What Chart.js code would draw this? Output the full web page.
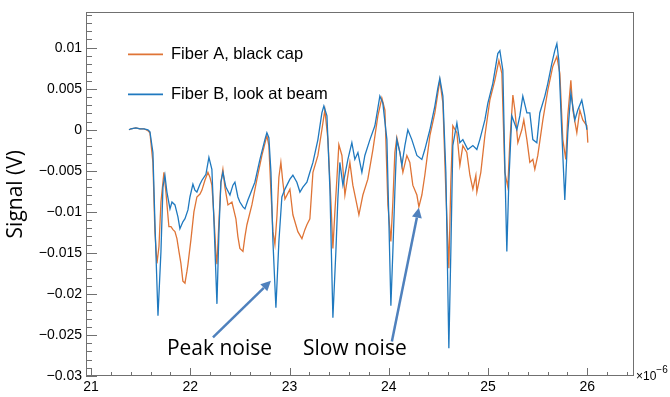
<!DOCTYPE html>
<html><head><meta charset="utf-8">
<script src="https://cdn.jsdelivr.net/npm/chart.js@4.4.1/dist/chart.umd.min.js"></script>
<style>html,body{margin:0;padding:0;background:#fff}#wrap{width:670px;height:397px;position:relative}</style>
</head><body><div id="wrap"><canvas id="c" width="670" height="397"></canvas></div>
<script>
// time in units of 1e-6 s, signal in V
const timeA = [21.383,21.403,21.453,21.493,21.534,21.574,21.594,21.624,21.644,21.665,21.685,21.705,21.735,21.755,21.785,21.806,21.826,21.846,21.866,21.886,21.906,21.926,21.947,21.967,21.977,22.007,22.037,22.067,22.098,22.118,22.148,22.178,22.198,22.218,22.239,22.259,22.269,22.289,22.309,22.329,22.349,22.380,22.420,22.460,22.480,22.500,22.531,22.551,22.571,22.621,22.672,22.722,22.772,22.792,22.813,22.833,22.853,22.873,22.893,22.913,22.933,22.954,23.004,23.034,23.084,23.125,23.155,23.175,23.205,23.236,23.286,23.326,23.356,23.387,23.417,23.437,23.457,23.477,23.497,23.528,23.558,23.608,23.638,23.679,23.699,23.739,23.789,23.840,23.890,23.930,23.961,23.991,24.021,24.041,24.061,24.081,24.112,24.142,24.182,24.212,24.242,24.283,24.303,24.333,24.363,24.414,24.464,24.514,24.545,24.575,24.605,24.625,24.645,24.686,24.716,24.746,24.786,24.817,24.847,24.877,24.887,24.927,24.968,25.018,25.068,25.109,25.139,25.169,25.199,25.219,25.250,25.270,25.300,25.340,25.360,25.391,25.421,25.451,25.471,25.501,25.552,25.602,25.652,25.693,25.723,25.753,25.783,25.803,25.834,25.854,25.894,25.924,25.954,25.995,26.005];
const signalA = [0,0.00012,0.00024,0.00012,0.00012,-0.00012,-0.00036,-0.00398,-0.01241,-0.01627,-0.01422,-0.0088,-0.00518,-0.00759,-0.01181,-0.01181,-0.01217,-0.01241,-0.01326,-0.01482,-0.01627,-0.01844,-0.01868,-0.01723,-0.01639,-0.01338,-0.01,-0.00819,-0.00783,-0.00735,-0.00615,-0.00518,-0.00578,-0.00675,-0.0106,-0.01518,-0.01639,-0.01121,-0.00639,-0.00482,-0.00699,-0.00916,-0.0088,-0.01084,-0.01301,-0.01446,-0.01482,-0.01301,-0.01157,-0.00916,-0.00602,-0.00313,-0.00072,-0.00193,-0.00759,-0.01241,-0.01398,-0.0106,-0.00578,-0.00398,-0.00639,-0.00843,-0.00723,-0.01036,-0.01241,-0.01326,-0.01217,-0.01157,-0.01084,-0.00518,-0.00313,0,0.00241,-0.0012,-0.0088,-0.01446,-0.01,-0.00602,-0.00181,-0.00313,-0.00795,-0.00398,-0.00675,-0.00916,-0.01036,-0.00795,-0.00602,-0.00241,0.00169,0.00386,0.00241,-0.00916,-0.01362,-0.0088,-0.00277,-0.00096,-0.00277,-0.00518,-0.00313,-0.00398,-0.00675,-0.00795,-0.0094,-0.00795,-0.00554,-0.00072,0.00205,0.00602,0.00325,-0.00759,-0.01687,-0.00639,0.00048,-0.00036,-0.00434,-0.00193,-0.00277,-0.00554,-0.00723,-0.00554,-0.00759,-0.00518,-0.00072,0.00361,0.00602,0.00843,0.00687,-0.00518,-0.00699,-0.00157,0.00422,0.00241,-0.00157,0,0.0012,-0.0012,-0.00398,-0.00361,-0.00482,-0.00313,0.0012,0.00482,0.00771,0.00892,0.00687,-0.0012,-0.00361,0.00169,0.00602,0.00241,-0.00036,0.00241,0.0012,0.00048,-0.00157];
const timeB = [21.383,21.403,21.453,21.493,21.534,21.574,21.594,21.624,21.644,21.675,21.705,21.725,21.745,21.765,21.796,21.816,21.846,21.876,21.896,21.926,21.947,21.977,21.997,22.027,22.047,22.067,22.098,22.118,22.158,22.188,22.218,22.239,22.269,22.289,22.309,22.329,22.359,22.400,22.430,22.450,22.480,22.500,22.531,22.551,22.581,22.601,22.651,22.702,22.752,22.772,22.792,22.813,22.833,22.863,22.893,22.923,22.954,23.004,23.034,23.074,23.105,23.135,23.175,23.205,23.236,23.286,23.326,23.346,23.377,23.407,23.437,23.467,23.487,23.507,23.538,23.588,23.628,23.658,23.689,23.729,23.759,23.810,23.860,23.890,23.910,23.940,23.981,24.001,24.021,24.041,24.061,24.081,24.112,24.132,24.162,24.192,24.232,24.283,24.333,24.363,24.414,24.464,24.494,24.514,24.545,24.575,24.605,24.625,24.645,24.686,24.716,24.746,24.796,24.847,24.887,24.917,24.968,24.998,25.048,25.098,25.119,25.149,25.169,25.189,25.209,25.239,25.290,25.320,25.350,25.391,25.421,25.451,25.491,25.521,25.572,25.602,25.642,25.672,25.693,25.713,25.743,25.773,25.803,25.834,25.874,25.904,25.944,25.975,25.995];
const signalB = [0,0.00012,0.00024,0.00012,0.00012,0,-0.00024,-0.00277,-0.01121,-0.02265,-0.01482,-0.00699,-0.00554,-0.00759,-0.00964,-0.0088,-0.00916,-0.0106,-0.01205,-0.01121,-0.01084,-0.00976,-0.00819,-0.00663,-0.00735,-0.00759,-0.00663,-0.00615,-0.00542,-0.00337,-0.00482,-0.01121,-0.02121,-0.01241,-0.00639,-0.00518,-0.00699,-0.00795,-0.00675,-0.00639,-0.00819,-0.0088,-0.0094,-0.00964,-0.00856,-0.00795,-0.00639,-0.00361,-0.0012,-0.00036,-0.00096,-0.00518,-0.01362,-0.02169,-0.01362,-0.00819,-0.00723,-0.00602,-0.00554,-0.00639,-0.00759,-0.00699,-0.00639,-0.00518,-0.00398,-0.0012,0.00205,0.00289,0.00169,-0.00723,-0.0229,-0.01482,-0.00843,-0.00398,-0.00675,-0.00361,-0.00157,-0.00361,-0.00277,-0.00518,-0.00313,-0.0012,0.00048,0.00265,0.0041,0.00325,-0.0012,-0.01121,-0.02145,-0.01482,-0.00759,-0.0012,-0.00277,-0.00434,-0.00193,0,-0.0012,-0.00313,-0.00361,-0.00241,0,0.00289,0.00506,0.00627,0.0041,-0.00518,-0.02663,-0.01482,-0.00193,0.00084,-0.00157,-0.0012,-0.00241,-0.00193,-0.00241,-0.0012,0.0012,0.00325,0.00566,0.00928,0.00964,0.00723,-0.00434,-0.01482,-0.00639,0.00169,0,0.00169,0.0041,0.00205,0.00205,-0.0012,-0.00157,0.00205,0.0041,0.00566,0.00807,0.00964,0.01048,0.00843,-0.00036,-0.00856,-0.00036,0.00446,0.0012,0.00241,0.00361,0.00169,0];
const seriesLabels = ['Fiber A, black cap', 'Fiber B, look at beam'];
const seriesColors = ['#DF7436', '#1F79BF'];
const xRange = [20.95, 26.47];
const yRange = [-0.03, 0.0143];
const yAxisTitle = 'Signal (V)';
const xExponent = ['\u00d710', '\u22126'];
const notes = [
  {text: 'Peak noise', x: 21.765, y: -0.0275, fromX: 22.229, fromY: -0.0253, toX: 22.813, toY: -0.0184},
  {text: 'Slow noise', x: 23.135, y: -0.0275, fromX: 24.031, fromY: -0.0258, toX: 24.303, toY: -0.0095}
];

function fmtY(v) {
  const r = Math.round(v * 1000) / 1000;
  if (Math.abs(r * 200 - Math.round(r * 200)) > 1e-6) return '';
  if (r === 0) return '0';
  return String(r).replace('-', '\u2212');
}

const decor = {
  id: 'decor',
  afterDraw(chart) {
    const ctx = chart.ctx, a = chart.chartArea, xs = chart.scales.x, ys = chart.scales.y;
    ctx.save();
    ctx.strokeStyle = '#707070';
    ctx.lineWidth = 1;
    ctx.strokeRect(Math.round(a.left) + 0.5, Math.round(a.top) + 0.5, Math.round(a.right - a.left) - 1, Math.round(a.bottom - a.top) - 1);
    ctx.beginPath();
    for (let k = -30; k <= 14; k++) {
      const py = Math.round(ys.getPixelForValue(k / 1000)) + 0.5;
      const len = (k % 5 === 0) ? 11 : 6;
      ctx.moveTo(a.left, py); ctx.lineTo(a.left + len, py);
    }
    for (let k = 0; k <= 27; k++) {
      const px = Math.round(xs.getPixelForValue(21 + k * 0.2)) + 0.5;
      const len = (k % 5 === 0) ? 8 : 4;
      ctx.moveTo(px, a.bottom); ctx.lineTo(px, a.bottom - len);
    }
    ctx.stroke();
    ctx.font = '16.5px "Liberation Sans", Arial, sans-serif';
    ctx.textBaseline = 'middle';
    ctx.textAlign = 'left';
    chart.data.datasets.forEach((ds, i) => {
      const y = a.top + 42 + i * 40;
      ctx.strokeStyle = ds.borderColor;
      ctx.lineWidth = 1.6;
      ctx.beginPath(); ctx.moveTo(a.left + 42, y); ctx.lineTo(a.left + 77, y); ctx.stroke();
      ctx.fillStyle = '#000';
      ctx.fillText(ds.label, a.left + 85, y);
    });
    ctx.font = '21px "Open Sans", sans-serif';
    ctx.textBaseline = 'alphabetic';
    notes.forEach(n => {
      ctx.fillStyle = '#000';
      ctx.fillText(n.text, xs.getPixelForValue(n.x), ys.getPixelForValue(n.y));
      const x0 = xs.getPixelForValue(n.fromX), y0 = ys.getPixelForValue(n.fromY);
      const x1 = xs.getPixelForValue(n.toX), y1 = ys.getPixelForValue(n.toY);
      const ang = Math.atan2(y1 - y0, x1 - x0);
      const hl = 10, hw = 5;
      const bx = x1 - hl * Math.cos(ang), by = y1 - hl * Math.sin(ang);
      ctx.strokeStyle = '#4F81BD'; ctx.fillStyle = '#4F81BD';
      ctx.lineWidth = 2.5;
      ctx.beginPath(); ctx.moveTo(x0, y0); ctx.lineTo(bx, by); ctx.stroke();
      ctx.beginPath();
      ctx.moveTo(x1, y1);
      ctx.lineTo(bx + hw * Math.sin(ang), by - hw * Math.cos(ang));
      ctx.lineTo(bx - hw * Math.sin(ang), by + hw * Math.cos(ang));
      ctx.closePath(); ctx.fill();
    });
    ctx.fillStyle = '#000';
    ctx.font = '12px "Liberation Sans", Arial, sans-serif';
    ctx.fillText(xExponent[0], a.right + 2, a.bottom + 4);
    const w = ctx.measureText(xExponent[0]).width;
    ctx.font = '10px "Liberation Sans", Arial, sans-serif';
    ctx.fillText(xExponent[1], a.right + 2 + w, a.bottom - 3);
    ctx.restore();
  }
};

new Chart(document.getElementById('c'), {
  type: 'line',
  data: {
    datasets: [
      {label: seriesLabels[0], data: timeA.map((t, i) => ({x: t, y: signalA[i]})), borderColor: seriesColors[0], borderWidth: 1.3, pointRadius: 0, tension: 0, fill: false, order: 1},
      {label: seriesLabels[1], data: timeB.map((t, i) => ({x: t, y: signalB[i]})), borderColor: seriesColors[1], borderWidth: 1.3, pointRadius: 0, tension: 0, fill: false, order: 0}
    ]
  },
  options: {
    responsive: false, animation: false, devicePixelRatio: 1,
    layout: {padding: {left: 0, right: 36, top: 8, bottom: 0}},
    plugins: {legend: {display: false}, tooltip: {enabled: false}},
    scales: {
      x: {
        type: 'linear', min: xRange[0], max: xRange[1],
        grid: {display: false, drawTicks: false}, border: {display: false},
        ticks: {stepSize: 1, includeBounds: false, autoSkip: false, maxRotation: 0, padding: 3, color: '#000',
          font: {family: '"Liberation Sans", Arial, sans-serif', size: 14},
          callback: v => (Math.abs(v - Math.round(v)) < 1e-6 ? String(Math.round(v)) : '')},
        afterFit: s => { s.height = 21; }
      },
      y: {
        type: 'linear', min: yRange[0], max: yRange[1],
        grid: {display: false, drawTicks: false}, border: {display: false},
        ticks: {stepSize: 0.005, includeBounds: false, autoSkip: false, padding: 4, color: '#000',
          font: {family: '"Liberation Sans", Arial, sans-serif', size: 14},
          callback: v => fmtY(v)},
        title: {display: true, text: yAxisTitle, color: '#000', font: {family: '"Open Sans", sans-serif', size: 21}, padding: {top: 3, bottom: 0}},
        afterFit: s => { s.width = 86; }
      }
    }
  },
  plugins: [decor]
});
</script>
</body></html>
